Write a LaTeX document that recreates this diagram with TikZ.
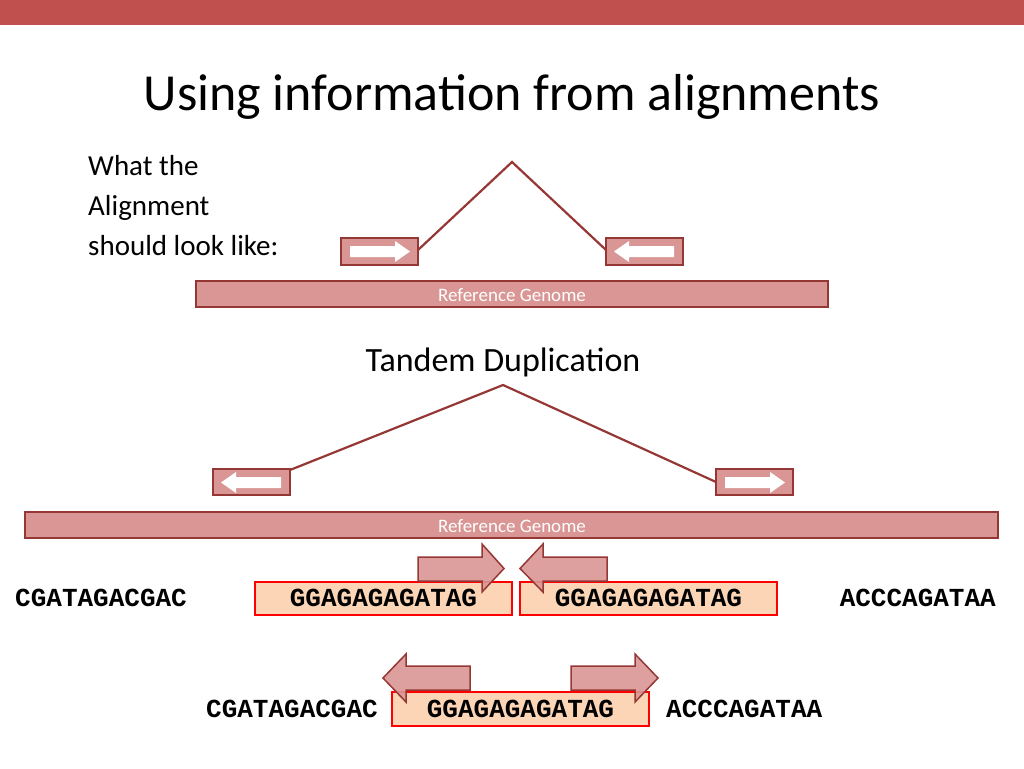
\documentclass[tikz,border=0pt]{standalone}
\usepackage{fontspec}
\setmainfont{Carlito}
\newfontfamily\mono{Liberation Mono}
\definecolor{bar}{HTML}{C0504D}
\definecolor{pfill}{HTML}{D99694}
\definecolor{pdraw}{HTML}{953735}
\definecolor{sfill}{HTML}{FBD5B5}
\begin{document}
\begin{tikzpicture}[x=1pt,y=-1pt,
  rd/.style={fill=pfill,draw=pdraw,line width=2pt},
  ln/.style={draw=pdraw,line width=2.2pt},
  wa/.style={fill=white,draw=none},
  sq/.style={fill=sfill,draw=red,line width=1.5pt},
  seq/.style={font=\mono\bfseries\fontsize{26}{28}\selectfont,inner sep=0pt},
  lbl/.style={font=\fontsize{19}{21}\selectfont,text=white,inner sep=0pt}]
\useasboundingbox (0,0) rectangle (1024,768);
\fill[bar] (0,0) rectangle (1024,25);
\node[font=\fontsize{52}{56}\selectfont,inner sep=0pt] (title) at (512,97) {Using information from alignments};
\node[font=\fontsize{29}{40}\selectfont,align=left,anchor=north west,inner sep=0pt] (what) at (88,155) {What the\\Alignment\\should look like:};
% top section
\path[rd] (341,238) rectangle (418,265) coordinate (b1);
\coordinate (b1c) at (418,250);
\path[rd] (606,238) rectangle (683,265);
\coordinate (b2c) at (606,250);
\coordinate (apex1) at (512,162);
\draw[ln] (b1c) -- (apex1) -- (b2c);
\fill[wa] (350,246) -- (395,246) -- (395,241) -- (410,251.5) -- (395,262) -- (395,257) -- (350,257) -- cycle;
\fill[wa] (674,246) -- (629,246) -- (629,241) -- (614,251.5) -- (629,262) -- (629,257) -- (674,257) -- cycle;
\path[rd] (196,281) rectangle (828,307);
\node[lbl] (rg1) at (512,295) {Reference Genome};
% tandem
\node[font=\fontsize{34}{38}\selectfont,inner sep=0pt] (td) at (503,362) {Tandem Duplication};
\path[rd] (213,469) rectangle (290,495);
\path[rd] (716,469) rectangle (793,495);
\coordinate (c1) at (290,470);
\coordinate (apex2) at (503,385);
\coordinate (c2) at (716,482);
\draw[ln] (c1) -- (apex2) -- (c2);
\fill[wa] (281,477) -- (236,477) -- (236,472) -- (221,482.5) -- (236,493) -- (236,488) -- (281,488) -- cycle;
\fill[wa] (725,477) -- (770,477) -- (770,472) -- (785,482.5) -- (770,493) -- (770,488) -- (725,488) -- cycle;
\path[rd] (25,512) rectangle (998,538);
\node[lbl] (rg2) at (512,526) {Reference Genome};
% sequence row 1
\path[sq] (255,582) rectangle (512,615);
\path[sq] (520,582) rectangle (777,615);
\node[seq,anchor=west] (s1) at (15,598) {CGATAGACGAC};
\node[seq] (s2) at (383.5,598) {GGAGAGAGATAG};
\node[seq] (s3) at (648.5,598) {GGAGAGAGATAG};
\node[seq,anchor=east] (s4) at (996,598) {ACCCAGATAA};
\path[rd,line width=1.5pt,fill opacity=0.9] (418,557) -- (482,557) -- (482,544) -- (504,568.5) -- (482,592) -- (482,581) -- (418,581) -- cycle;
\path[rd,line width=1.5pt,fill opacity=0.9] (607,557) -- (543,557) -- (543,544) -- (520,568.5) -- (543,592) -- (543,581) -- (607,581) -- cycle;
% sequence row 2
\path[sq] (392,692) rectangle (649,726);
\node[seq,anchor=east] (t1) at (378,709) {CGATAGACGAC};
\node[seq] (t2) at (520.5,709) {GGAGAGAGATAG};
\node[seq,anchor=west] (t3) at (666,709) {ACCCAGATAA};
\path[rd,line width=1.5pt,fill opacity=0.9] (470,666) -- (406,666) -- (406,654) -- (383,678) -- (406,702) -- (406,690) -- (470,690) -- cycle;
\path[rd,line width=1.5pt,fill opacity=0.9] (571,666) -- (635,666) -- (635,654) -- (658,678) -- (635,702) -- (635,690) -- (571,690) -- cycle;
\end{tikzpicture}
\end{document}
